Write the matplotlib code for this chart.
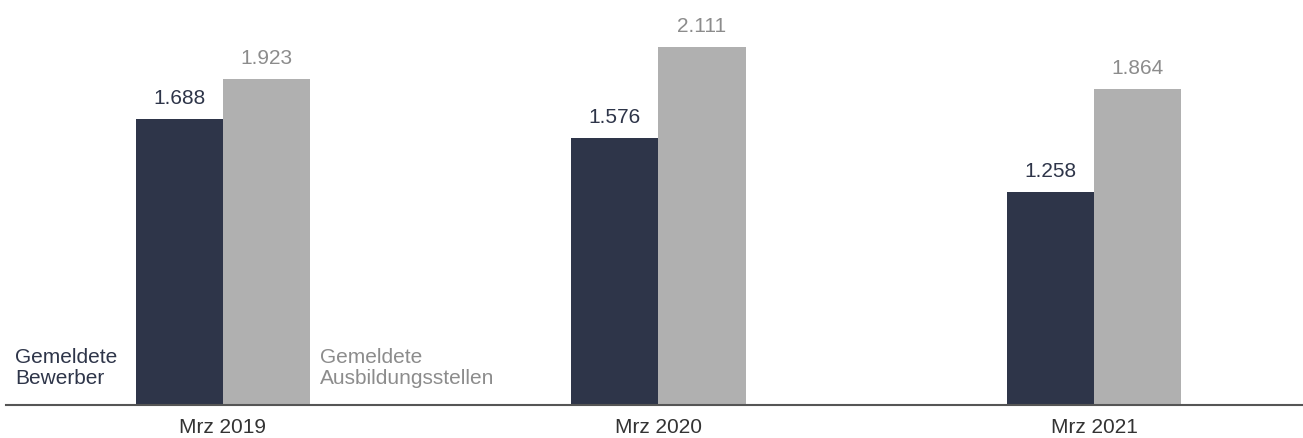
import matplotlib.pyplot as plt
import numpy as np

plt.rcParams['font.family'] = ['Liberation Sans', 'DejaVu Sans']

# Gemeldete Bewerber und Ausbildungsstellen, jeweils im März
months = ['Mrz 2019', 'Mrz 2020', 'Mrz 2021']
bewerber = [1688, 1576, 1258]
stellen = [1923, 2111, 1864]

dark = '#2e3549'
gray = '#b0b0b0'
gray_text = '#8c8c8c'

fig = plt.figure(figsize=(13.03, 4.39), dpi=100)
ax = fig.add_axes([6/1303, 33/439, 1297/1303, 406/439])

x = np.arange(len(months))
w = 0.2
b1 = ax.bar(x - w/2, bewerber, w, color=dark)
b2 = ax.bar(x + w/2, stellen, w, color=gray)

for rect, v in zip(b1, bewerber):
    ax.annotate(f'{v/1000:.3f}', (rect.get_x() + rect.get_width()/2, v),
                xytext=(0, 8.5), textcoords='offset points',
                ha='center', va='bottom', fontsize=15, color=dark)
for rect, v in zip(b2, stellen):
    ax.annotate(f'{v/1000:.3f}', (rect.get_x() + rect.get_width()/2, v),
                xytext=(0, 8.5), textcoords='offset points',
                ha='center', va='bottom', fontsize=15, color=gray_text)

# Legende direkt neben der ersten Gruppe
ax.text(-0.477, 340, 'Gemeldete\nBewerber', ha='left', va='top',
        fontsize=15, color=dark, linespacing=1.12)
ax.text(x[0] + w + 0.023, 340, 'Gemeldete\nAusbildungsstellen', ha='left', va='top',
        fontsize=15, color=gray_text, linespacing=1.12)

ax.set_xlim(-0.498, 2.48)
ax.set_ylim(0, 2395)
ax.set_xticks(x)
ax.set_xticklabels(months, fontsize=15, color='#333333')
ax.tick_params(axis='x', length=0, pad=9)
ax.set_yticks([])
for s in ['top', 'right', 'left']:
    ax.spines[s].set_visible(False)
ax.spines['bottom'].set_color('#555555')
ax.spines['bottom'].set_linewidth(1.5)

fig.savefig('out.png', dpi=100)
